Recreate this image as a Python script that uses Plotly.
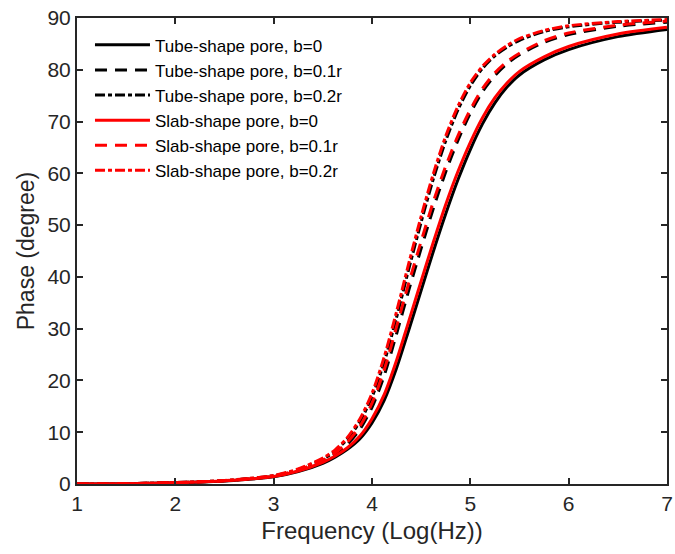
import plotly.graph_objects as go

freq_log = [1.0, 1.5, 2.0, 2.5, 3.0, 3.25, 3.5, 3.625, 3.75, 3.875, 4.0, 4.125, 4.25, 4.375,
            4.5, 4.625, 4.75, 4.875, 5.0, 5.125, 5.25, 5.375, 5.5, 5.75, 6.0, 6.5, 7.0]

tube_b0 = [0.0, 0.05, 0.25, 0.6, 1.4, 2.4, 4.0, 5.2, 6.7, 8.7, 11.8, 16.2, 22.4, 29.8,
           37.4, 45.0, 52.2, 58.8, 64.6, 69.6, 73.6, 76.7, 79.0, 81.9, 83.9, 86.4, 87.8]
tube_b01 = [0.0, 0.05, 0.26, 0.63, 1.5, 2.6, 4.4, 5.8, 7.7, 10.5, 14.8, 21.0, 29.0, 37.5,
            45.5, 53.3, 60.3, 66.4, 71.6, 75.8, 78.9, 81.2, 82.9, 85.3, 86.8, 88.4, 89.2]
tube_b02 = [0.0, 0.05, 0.27, 0.66, 1.6, 2.8, 4.8, 6.4, 8.7, 12.0, 16.8, 23.6, 32.2, 41.6,
            50.6, 59.0, 66.3, 72.3, 76.9, 80.3, 82.7, 84.4, 85.7, 87.4, 88.3, 89.2, 89.6]
slab_b0 = [0.0, 0.05, 0.25, 0.62, 1.45, 2.5, 4.2, 5.4, 7.0, 9.2, 12.6, 17.3, 23.9, 31.5,
           39.2, 46.8, 54.0, 60.4, 66.0, 70.8, 74.6, 77.5, 79.7, 82.5, 84.5, 86.9, 88.2]
slab_b01 = [0.0, 0.05, 0.26, 0.65, 1.55, 2.7, 4.6, 6.0, 8.1, 11.1, 15.6, 22.1, 30.4, 38.9,
            46.9, 54.6, 61.4, 67.3, 72.3, 76.4, 79.4, 81.6, 83.2, 85.6, 87.1, 88.6, 89.4]
slab_b02 = [0.0, 0.05, 0.28, 0.68, 1.65, 2.9, 5.0, 6.6, 9.0, 12.5, 17.5, 24.6, 33.3, 42.7,
            51.7, 60.0, 67.2, 73.0, 77.5, 80.7, 83.0, 84.7, 86.0, 87.6, 88.5, 89.3, 89.7]

names = ["Tube-shape pore, b=0", "Tube-shape pore, b=0.1r", "Tube-shape pore, b=0.2r",
         "Slab-shape pore, b=0", "Slab-shape pore, b=0.1r", "Slab-shape pore, b=0.2r"]
series = [tube_b0, tube_b01, tube_b02, slab_b0, slab_b01, slab_b02]
colors = ["#000000", "#000000", "#000000", "#FF0000", "#FF0000", "#FF0000"]
dashes = ["solid", "12px,8px", "10px,3px,4px,3px", "solid", "12px,8px", "10px,3px,4px,3px"]

fig = go.Figure()
for name, ys, c, d in zip(names, series, colors, dashes):
    fig.add_trace(go.Scatter(x=freq_log, y=ys, mode="lines", name=name,
                             line=dict(color=c, width=3, dash=d, shape="spline", smoothing=0.8)))

axis_color = "#262626"
fig.update_layout(
    width=675, height=554,
    margin=dict(l=77, r=2, t=18, b=70),
    paper_bgcolor="white", plot_bgcolor="white",
    font=dict(family="Liberation Sans, Arial, sans-serif", color=axis_color),
    showlegend=True,
    legend=dict(x=0.022, y=0.98, xanchor="left", yanchor="top",
                bgcolor="rgba(255,255,255,0)", borderwidth=0,
                font=dict(size=17, color="#000000"), itemwidth=55,
                tracegroupgap=0),
    xaxis=dict(range=[1, 7], tickvals=[1, 2, 3, 4, 5, 6, 7], showgrid=False, zeroline=False,
               showline=True, linecolor=axis_color, linewidth=2, mirror="ticks",
               ticks="inside", ticklen=6, tickwidth=2, tickcolor=axis_color,
               ticklabeloverflow="allow",
               tickfont=dict(size=21, color=axis_color),
               title=dict(text="Frequency (Log(Hz))", font=dict(size=24, color=axis_color), standoff=8)),
    yaxis=dict(range=[0, 90], tickvals=list(range(0, 91, 10)), showgrid=False, zeroline=False,
               showline=True, linecolor=axis_color, linewidth=2, mirror="ticks",
               ticks="inside", ticklen=6, tickwidth=2, tickcolor=axis_color,
               ticklabeloverflow="allow",
               tickfont=dict(size=21, color=axis_color),
               title=dict(text="Phase (degree)", font=dict(size=23, color=axis_color), standoff=6)),
)

fig.write_html("out.html")
